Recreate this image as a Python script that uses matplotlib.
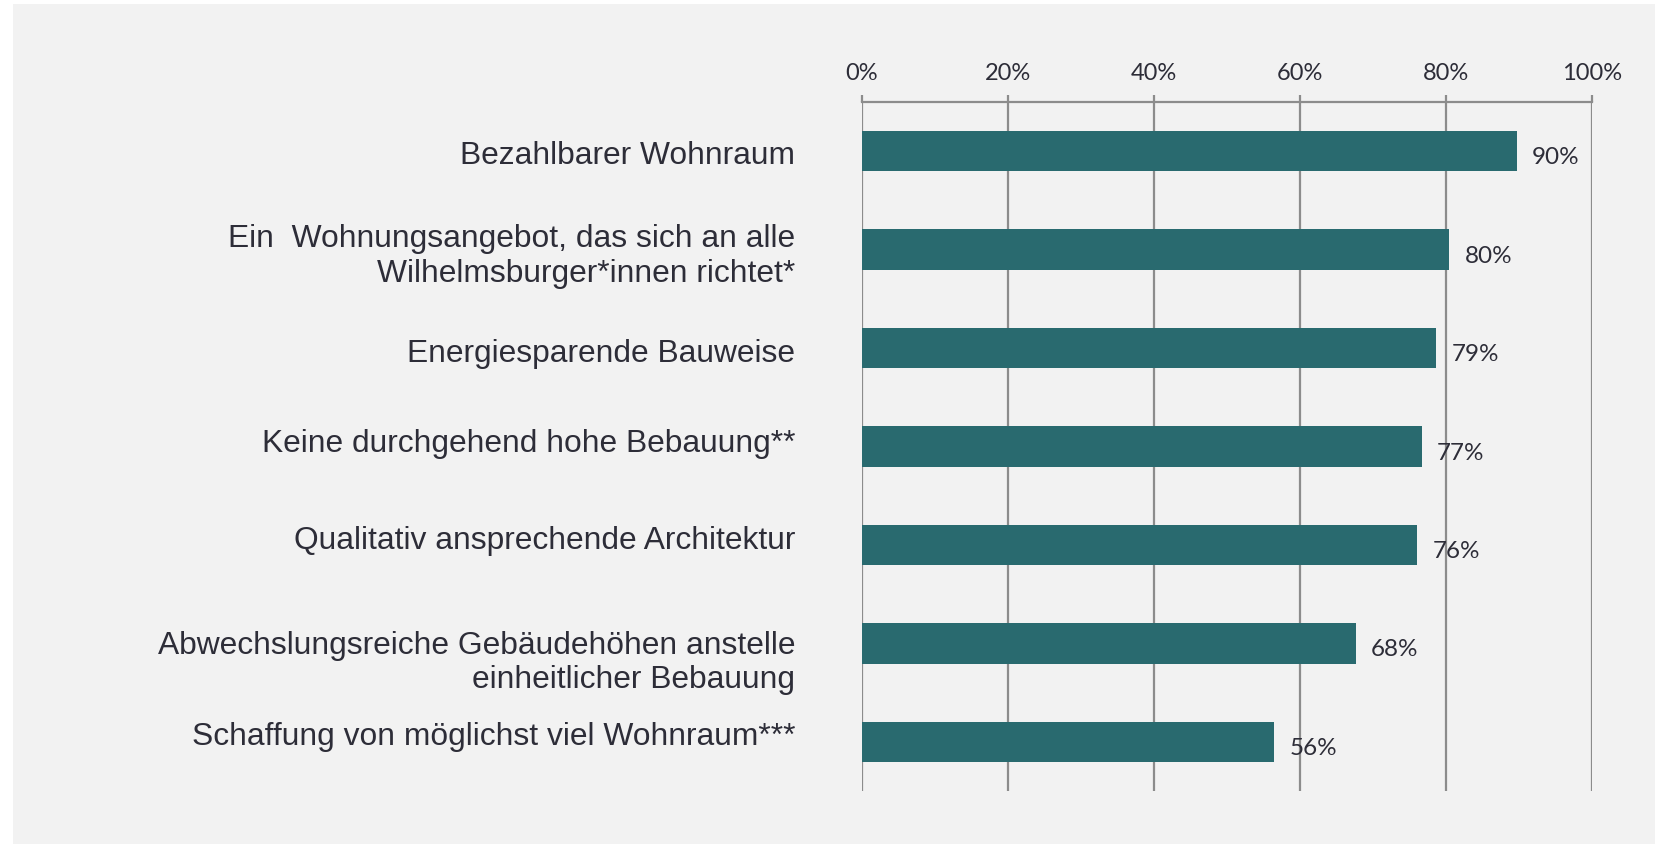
import numpy as np
import matplotlib.pyplot as plt
import matplotlib.transforms as mtransforms
from matplotlib.patches import Rectangle

# Data
categories = [
    "Bezahlbarer Wohnraum",
    "Ein  Wohnungsangebot, das sich an alle\nWilhelmsburger*innen richtet*",
    "Energiesparende Bauweise",
    "Keine durchgehend hohe Bebauung**",
    "Qualitativ ansprechende Architektur",
    "Abwechslungsreiche Gebäudehöhen anstelle\neinheitlicher Bebauung",
    "Schaffung von möglichst viel Wohnraum***",
]
values = [89.7, 80.5, 78.7, 76.7, 76.1, 67.7, 56.5]
value_labels = ["90%", "80%", "79%", "77%", "76%", "68%", "56%"]
tick_values = [0, 20, 40, 60, 80, 100]
tick_labels = ["0%", "20%", "40%", "60%", "80%", "100%"]

bar_color = "#296a6f"
text_color = "#2d2d38"
grid_color = "#8c8c8c"
bg_color = "#f2f2f2"

fig = plt.figure(figsize=(16.55, 8.45), dpi=100)
fig.patch.set_facecolor("white")

# light grey panel behind the chart (white strip at top and left)
fig.patches.append(Rectangle((13 / 1655, 0), 1 - 13 / 1655, 1 - 5 / 845,
                             transform=fig.transFigure, facecolor=bg_color,
                             edgecolor="none", zorder=-10))

ax = fig.add_axes([861.7 / 1655, 53 / 845, 730 / 1655, 689 / 845])
ax.set_facecolor("none")

y = np.arange(len(categories))
ax.barh(y, values, height=0.41, color=bar_color, zorder=3)

ax.set_xlim(0, 100)
ax.set_ylim(len(categories) - 0.5, -0.5)

# x axis on top with gridlines
ax.xaxis.tick_top()
ax.set_xticks(tick_values)
ax.set_xticklabels(tick_labels, fontfamily="Lato", fontsize=17, color=text_color)
ax.tick_params(axis="x", which="major", length=5, width=1.6, color=grid_color, pad=9)
ax.grid(axis="x", color=grid_color, linewidth=1.6, zorder=0)

for side in ["bottom", "left", "right"]:
    ax.spines[side].set_visible(False)
ax.spines["top"].set_color(grid_color)
ax.spines["top"].set_linewidth(1.6)

# category labels
ax.set_yticks(y)
ax.set_yticklabels(categories, fontfamily="Liberation Sans", fontsize=22.9,
                   color=text_color, ha="right", linespacing=1.2)
ax.tick_params(axis="y", length=0, pad=48)
label_shift = [0, 0, -1, 7, 8, -13, 9]
for lab, dy in zip(ax.get_yticklabels(), label_shift):
    off = mtransforms.ScaledTranslation(0, dy / 100, fig.dpi_scale_trans)
    lab.set_transform(lab.get_transform() + off)

# value labels
for yi, v, t in zip(y, values, value_labels):
    ax.annotate(t, (v, yi), xytext=(11, -4), textcoords="offset points",
                ha="left", va="center", fontfamily="Lato", fontsize=17.5,
                color=text_color, zorder=4)

fig.savefig("out.png", dpi=100, facecolor=fig.get_facecolor())
